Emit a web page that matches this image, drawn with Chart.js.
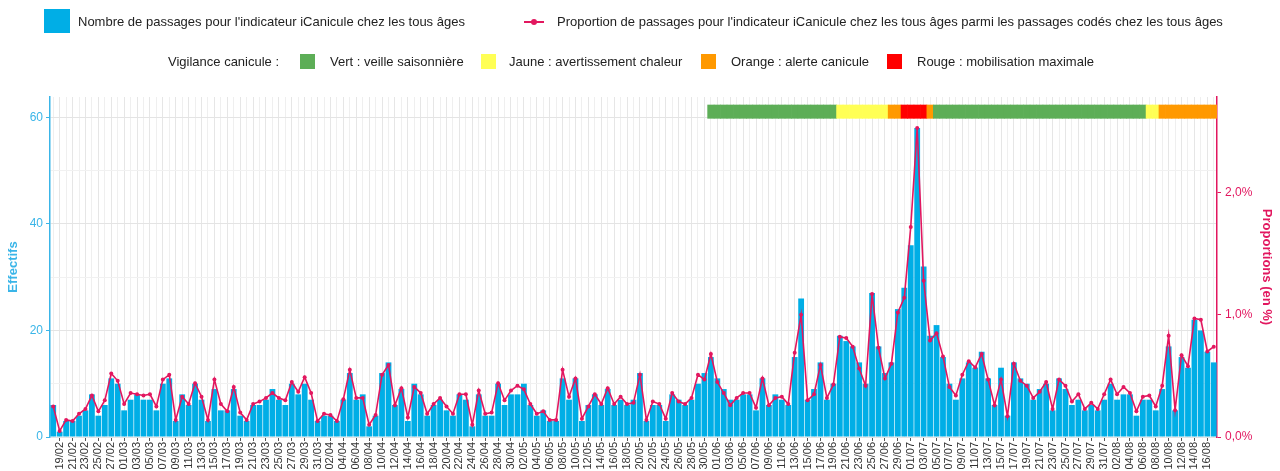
<!DOCTYPE html>
<html>
<head>
<meta charset="utf-8">
<title>Passages iCanicule</title>
<script src="https://cdn.jsdelivr.net/npm/chart.js@4.4.0/dist/chart.umd.min.js"></script>
<style>
body { margin: 0; background: #fff; font-family: "Liberation Sans", Arial, sans-serif; }
#cadre { position: relative; width: 1280px; height: 471px; overflow: hidden; }
canvas { position: absolute; left: 0; top: 0; }
.leg { position: absolute; font-size: 13px; line-height: 16px; color: #222; white-space: nowrap; }
.carre { position: absolute; }
</style>
</head>
<body>
<div id="cadre">
    <canvas id="graphe" width="1280" height="471"></canvas>

    <div class="carre" style="left:44px;top:9px;width:26px;height:24px;background:#00aee6"></div>
    <div class="leg" style="left:78px;top:14px">Nombre de passages pour l'indicateur iCanicule chez les tous âges</div>
    <div class="carre" style="left:524px;top:21px;width:20px;height:2px;background:#e2175f"></div>
    <div class="carre" style="left:531px;top:19px;width:6px;height:6px;border-radius:3px;background:#e2175f"></div>
    <div class="leg" style="left:557px;top:14px">Proportion de passages pour l'indicateur iCanicule chez les tous âges parmi les passages codés chez les tous âges</div>

    <div class="leg" style="left:168px;top:54px">Vigilance canicule :</div>
    <div class="carre" style="left:300px;top:54px;width:15px;height:15px;background:#5dae57"></div>
    <div class="leg" style="left:330px;top:54px">Vert : veille saisonnière</div>
    <div class="carre" style="left:481px;top:54px;width:15px;height:15px;background:#ffff55"></div>
    <div class="leg" style="left:509px;top:54px">Jaune : avertissement chaleur</div>
    <div class="carre" style="left:701px;top:54px;width:15px;height:15px;background:#ff9900"></div>
    <div class="leg" style="left:731px;top:54px">Orange : alerte canicule</div>
    <div class="carre" style="left:887px;top:54px;width:15px;height:15px;background:#ff0000"></div>
    <div class="leg" style="left:917px;top:54px">Rouge : mobilisation maximale</div>
</div>
<script>
// jours du 18/02 au 17/08
var debut = Date.UTC(2025, 1, 18);
var nbJours = 181;
var jours = [];
for (var i = 0; i < nbJours; i++) {
    var d = new Date(debut + i * 86400000);
    jours.push(String(d.getUTCDate()).padStart(2, '0') + '/' + String(d.getUTCMonth() + 1).padStart(2, '0'));
}

var passages = [
    6, 1, 3, 3, 4, 5, 8, 4, 6, 11, 10, 5, 7, 8, 7, 7, 5, 10, 11, 3, 8, 6, 10, 7, 3, 9, 5,
    5, 9, 4, 3, 6, 6, 7, 9, 7, 6, 10, 8, 10, 7, 3, 4, 4, 3, 7, 12, 7, 8, 2, 4, 12, 14, 6, 9, 3, 10, 8, 4,
    6, 7, 5, 4, 8, 7, 2, 8, 4, 4, 10, 6, 8, 8, 10, 6, 4, 5, 3, 3, 11, 7, 11, 3, 6, 8, 6, 9, 6, 7, 6, 7, 12,
    3, 6, 6, 3, 8, 7, 6, 7, 10, 12, 15, 11, 9, 7, 7, 8, 8, 5, 11, 6, 8, 7, 6, 15, 26, 7, 9, 14, 7, 10, 19, 18,
    17, 14, 10, 27, 17, 12, 14, 24, 28, 36, 58, 32, 19, 21, 15, 10, 7, 11, 14, 13, 16, 11, 6, 13, 4, 14, 11, 10, 7, 9, 10, 5, 11,
    9, 6, 7, 5, 6, 5, 7, 10, 7, 8, 8, 4, 7, 7, 5, 9, 17, 5, 15, 13, 22, 20, 16, 14
];

var proportions = [
    0.25, 0.05, 0.14, 0.13, 0.19, 0.23, 0.34, 0.21, 0.30, 0.52,
    0.46, 0.27, 0.36, 0.35, 0.34, 0.35, 0.25, 0.47, 0.51, 0.14,
    0.33, 0.27, 0.44, 0.33, 0.14, 0.47, 0.27, 0.21, 0.41, 0.20,
    0.14, 0.27, 0.29, 0.32, 0.36, 0.32, 0.30, 0.45, 0.37, 0.49,
    0.36, 0.13, 0.19, 0.18, 0.13, 0.31, 0.55, 0.32, 0.32, 0.10,
    0.18, 0.51, 0.59, 0.26, 0.40, 0.16, 0.41, 0.36, 0.19, 0.27,
    0.32, 0.25, 0.19, 0.35, 0.35, 0.10, 0.38, 0.19, 0.20, 0.44,
    0.30, 0.38, 0.42, 0.39, 0.27, 0.19, 0.21, 0.14, 0.14, 0.55,
    0.33, 0.48, 0.15, 0.25, 0.35, 0.27, 0.40, 0.27, 0.33, 0.27,
    0.28, 0.51, 0.14, 0.29, 0.27, 0.15, 0.36, 0.29, 0.27, 0.32,
    0.51, 0.47, 0.68, 0.45, 0.36, 0.26, 0.32, 0.36, 0.36, 0.24,
    0.48, 0.26, 0.32, 0.33, 0.27, 0.69, 1.00, 0.30, 0.35, 0.59,
    0.32, 0.43, 0.82, 0.81, 0.74, 0.56, 0.42, 1.17, 0.73, 0.48,
    0.60, 1.02, 1.14, 1.72, 2.53, 1.28, 0.79, 0.85, 0.66, 0.41,
    0.34, 0.51, 0.62, 0.57, 0.68, 0.47, 0.26, 0.47, 0.17, 0.60,
    0.46, 0.42, 0.32, 0.37, 0.45, 0.23, 0.47, 0.42, 0.29, 0.35,
    0.23, 0.28, 0.23, 0.35, 0.47, 0.35, 0.41, 0.36, 0.21, 0.33,
    0.34, 0.25, 0.42, 0.83, 0.22, 0.67, 0.58, 0.97, 0.96, 0.70,
    0.74
];

// periodes de vigilance : [du, au, niveau]
var vigilance = [
    ['31/05', '19/06', 'vert'],
    ['20/06', '27/06', 'jaune'],
    ['28/06', '29/06', 'orange'],
    ['30/06', '03/07', 'rouge'],
    ['04/07', '04/07', 'orange'],
    ['05/07', '06/08', 'vert'],
    ['07/08', '08/08', 'jaune'],
    ['09/08', '17/08', 'orange']
];
var couleursVigilance = { vert: '#5dae57', jaune: '#ffff55', orange: '#ff9900', rouge: '#ff0000' };

var maxEffectifs = 63.8;
var maxProportion = 2.784;
var bandeBas = 59.8, bandeHaut = 62.3;

var bleu = '#00aee6';
var bleuAxe = '#3ab5e8';
var rose = '#e2175f';

var bande = jours.map(function () { return null; });
var bandeCouleurs = jours.map(function () { return 'rgba(0,0,0,0)'; });
vigilance.forEach(function (p) {
    for (var j = jours.indexOf(p[0]); j <= jours.indexOf(p[1]); j++) {
        bande[j] = [bandeBas, bandeHaut];
        bandeCouleurs[j] = couleursVigilance[p[2]];
    }
});

Chart.defaults.font.family = '"Liberation Sans", Arial, sans-serif';

new Chart(document.getElementById('graphe'), {
    type: 'bar',
    data: {
        labels: jours,
        datasets: [{
            type: 'line',
            label: "Proportion de passages pour l'indicateur iCanicule",
            data: proportions,
            yAxisID: 'y1',
            borderColor: rose,
            backgroundColor: rose,
            borderWidth: 1.6,
            pointRadius: 2,
            pointBorderWidth: 0,
            tension: 0,
            order: 0
        }, {
            label: "Nombre de passages pour l'indicateur iCanicule",
            data: passages,
            yAxisID: 'y',
            backgroundColor: bleu,
            barPercentage: 0.9,
            categoryPercentage: 1,
            grouped: false,
            order: 1
        }, {
            label: 'Vigilance canicule',
            data: bande,
            yAxisID: 'y',
            backgroundColor: bandeCouleurs,
            barPercentage: 1,
            categoryPercentage: 1,
            grouped: false,
            order: 2
        }]
    },
    options: {
        responsive: false,
        animation: false,
        devicePixelRatio: 1,
        layout: { padding: { top: 97, left: 0, right: 0, bottom: 0 } },
        plugins: { legend: { display: false }, tooltip: { enabled: false } },
        scales: {
            x: {
                offset: true,
                grid: {
                    offset: false,
                    color: function (c) { return c.index % 2 === 1 ? '#e6e6e6' : '#efefef'; },
                    tickLength: 4,
                    tickColor: function (c) { return c.index % 2 === 1 ? '#555' : 'rgba(0,0,0,0)'; }
                },
                border: { display: false },
                ticks: {
                    autoSkip: false,
                    minRotation: 90,
                    maxRotation: 90,
                    padding: 1,
                    color: '#333',
                    font: { size: 11 },
                    callback: function (v, i) { return i % 2 === 1 ? jours[i] : ''; }
                },
                afterFit: function (s) { s.height = 34; }
            },
            y: {
                position: 'left',
                min: 0,
                max: maxEffectifs,
                ticks: {
                    stepSize: 10,
                    includeBounds: false,
                    color: bleuAxe,
                    font: { size: 12 },
                    padding: 3,
                    callback: function (v) { return v % 20 === 0 ? v : ''; }
                },
                grid: {
                    color: function (c) { return c.tick.value % 20 === 0 ? '#e4e4e4' : '#f1f1f1'; },
                    tickLength: 4,
                    tickColor: function (c) { return c.tick.value % 20 === 0 ? bleuAxe : 'rgba(0,0,0,0)'; }
                },
                border: { color: bleuAxe, width: 1.5 },
                title: {
                    display: true,
                    text: 'Effectifs',
                    color: bleuAxe,
                    font: { size: 13, weight: 'bold' },
                    padding: { top: 6, bottom: 0 }
                },
                afterFit: function (s) { s.width = 50; }
            },
            y1: {
                position: 'right',
                min: 0,
                max: maxProportion,
                ticks: {
                    stepSize: 1,
                    includeBounds: false,
                    color: rose,
                    font: { size: 12 },
                    padding: 4,
                    callback: function (v) { return v.toFixed(1).replace('.', ',') + '%'; }
                },
                grid: { drawOnChartArea: false, tickLength: 4, tickColor: rose },
                border: { color: rose, width: 1.5 },
                title: {
                    display: true,
                    text: 'Proportions (en %)',
                    color: rose,
                    font: { size: 13, weight: 'bold' },
                    padding: { top: 6, bottom: 0 }
                },
                afterFit: function (s) { s.width = 63; }
            }
        }
    }
});
</script>
</body>
</html>
